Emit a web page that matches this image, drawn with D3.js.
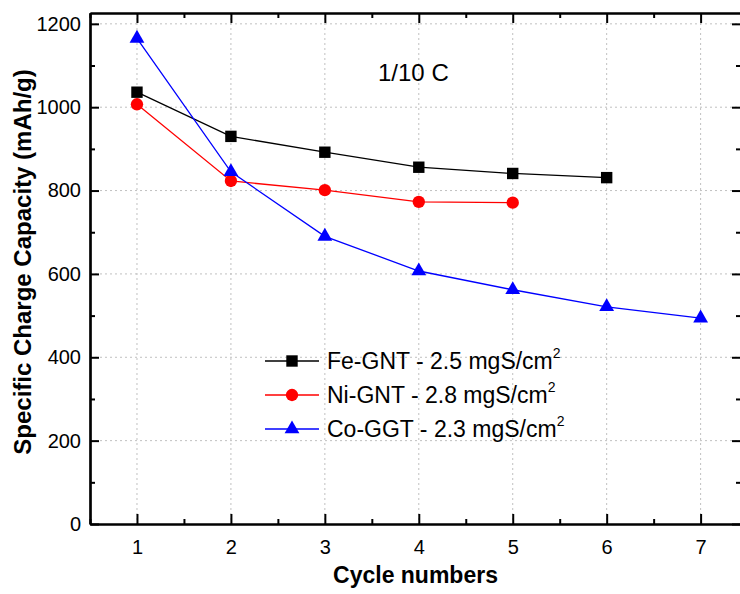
<!DOCTYPE html>
<html>
<head>
<meta charset="utf-8">
<script src="https://cdn.jsdelivr.net/npm/d3@7"></script>
<style>
  body { margin: 0; background: #fff; }
  svg { display: block; font-family: "Liberation Sans", Arial, sans-serif; }
</style>
</head>
<body>
<svg width="740" height="594"></svg>
<script>
// data
var cycles = [1, 2, 3, 4, 5, 6, 7];
var feGnt = [1036, 930, 892, 856, 841, 831];
var niGnt = [1007, 823, 801, 773, 771];
var coGgt = [1165, 845, 690, 607, 562, 521, 494];
var xTicks = [1, 2, 3, 4, 5, 6, 7];
var yTicks = [0, 200, 400, 600, 800, 1000, 1200];
var seriesNames = ["Fe-GNT - 2.5 mgS/cm", "Ni-GNT - 2.8 mgS/cm", "Co-GGT - 2.3 mgS/cm"];

var series = [
  { name: seriesNames[0], values: feGnt, color: "#000000", symbol: d3.symbolSquare, size: 130 },
  { name: seriesNames[1], values: niGnt, color: "#ff0000", symbol: d3.symbolCircle, size: 120 },
  { name: seriesNames[2], values: coGgt, color: "#0000ff", symbol: d3.symbolTriangle, size: 95 }
];

var svg = d3.select("svg");
var plotL = 90, plotR = 741, plotT = 13, plotB = 524;

var x = d3.scaleLinear().domain([0.5, 7.43]).range([plotL, plotR]);
var y = d3.scaleLinear().domain([0, 1226]).range([plotB, plotT]);

// grid
var grid = svg.append("g").attr("stroke", "#c0c0c0").attr("stroke-width", 1).attr("stroke-dasharray", "2,3");
grid.selectAll(".gx").data(xTicks).enter().append("line")
  .attr("x1", function (d) { return x(d); }).attr("x2", function (d) { return x(d); })
  .attr("y1", plotT).attr("y2", plotB);
grid.selectAll(".gy").data(yTicks.slice(1)).enter().append("line")
  .attr("x1", plotL).attr("x2", plotR)
  .attr("y1", function (d) { return y(d); }).attr("y2", function (d) { return y(d); });

// axes: all ticks inward
var xMinor = d3.range(0.5, 7.5, 0.5).filter(function (d) { return d % 1 !== 0; });
var yMinor = d3.range(100, 1300, 200);

svg.append("g").attr("transform", "translate(0," + plotB + ")")
  .call(d3.axisBottom(x).tickValues(xTicks).tickSizeInner(-10).tickSizeOuter(0).tickPadding(16).tickFormat(d3.format("d")));
svg.append("g").attr("transform", "translate(0," + plotB + ")")
  .call(d3.axisBottom(x).tickValues(xMinor).tickSizeInner(-5).tickSizeOuter(0).tickFormat(""));
svg.append("g").attr("transform", "translate(0," + plotT + ")")
  .call(d3.axisTop(x).tickValues(xTicks).tickSizeInner(-10).tickSizeOuter(0).tickFormat(""));
svg.append("g").attr("transform", "translate(0," + plotT + ")")
  .call(d3.axisTop(x).tickValues(xMinor).tickSizeInner(-5).tickSizeOuter(0).tickFormat(""));

svg.append("g").attr("transform", "translate(" + plotL + ",0)")
  .call(d3.axisLeft(y).tickValues(yTicks).tickSizeInner(-9).tickSizeOuter(0).tickPadding(9).tickFormat(d3.format("d")));
svg.append("g").attr("transform", "translate(" + plotL + ",0)")
  .call(d3.axisLeft(y).tickValues(yMinor).tickSizeInner(-5).tickSizeOuter(0).tickFormat(""));
svg.append("g").attr("transform", "translate(" + plotR + ",0)")
  .call(d3.axisRight(y).tickValues(yTicks).tickSizeInner(-9).tickSizeOuter(0).tickFormat(""));
svg.append("g").attr("transform", "translate(" + plotR + ",0)")
  .call(d3.axisRight(y).tickValues(yMinor).tickSizeInner(-5).tickSizeOuter(0).tickFormat(""));

svg.selectAll(".domain").attr("stroke", "#000").attr("stroke-width", 2.2);
svg.selectAll(".tick line").attr("stroke", "#000").attr("stroke-width", 2);
svg.selectAll(".tick text").style("font-size", "20px").style("font-family", "'Liberation Sans', Arial, sans-serif").attr("fill", "#000");

// series
series.forEach(function (s) {
  var pts = s.values.map(function (v, i) { return { c: cycles[i], v: v }; });
  svg.append("path").datum(pts)
    .attr("fill", "none").attr("stroke", s.color).attr("stroke-width", 1.3)
    .attr("d", d3.line().x(function (d) { return x(d.c); }).y(function (d) { return y(d.v); }));
  svg.selectAll(null).data(pts).enter().append("path")
    .attr("transform", function (d) { return "translate(" + x(d.c) + "," + y(d.v) + ")"; })
    .attr("d", d3.symbol().type(s.symbol).size(s.size))
    .attr("fill", s.color);
});

// legend
var legend = svg.append("g").attr("transform", "translate(265,361)");
series.forEach(function (s, i) {
  var row = legend.append("g").attr("transform", "translate(0," + (i * 34) + ")");
  row.append("line").attr("x1", 0).attr("x2", 54).attr("stroke", s.color).attr("stroke-width", 1.3);
  row.append("path").attr("transform", "translate(27,0)")
    .attr("d", d3.symbol().type(s.symbol).size(s.size)).attr("fill", s.color);
  var t = row.append("text").attr("x", 62).attr("y", 8).style("font-size", "23px").attr("fill", "#000");
  t.append("tspan").text(s.name);
  t.append("tspan").style("font-size", "14px").attr("dy", -11).text("2");
});

// annotation
svg.append("text").attr("x", 378).attr("y", 81).style("font-size", "24px").attr("fill", "#000").text("1/10 C");

// axis titles
svg.append("text").attr("x", (plotL + plotR) / 2).attr("y", 583)
  .attr("text-anchor", "middle").style("font-size", "23px").attr("font-weight", "bold").text("Cycle numbers");
svg.append("text").attr("transform", "translate(31,262) rotate(-90)")
  .attr("text-anchor", "middle").style("font-size", "24px").attr("font-weight", "bold").text("Specific Charge Capacity (mAh/g)");
</script>
</body>
</html>
